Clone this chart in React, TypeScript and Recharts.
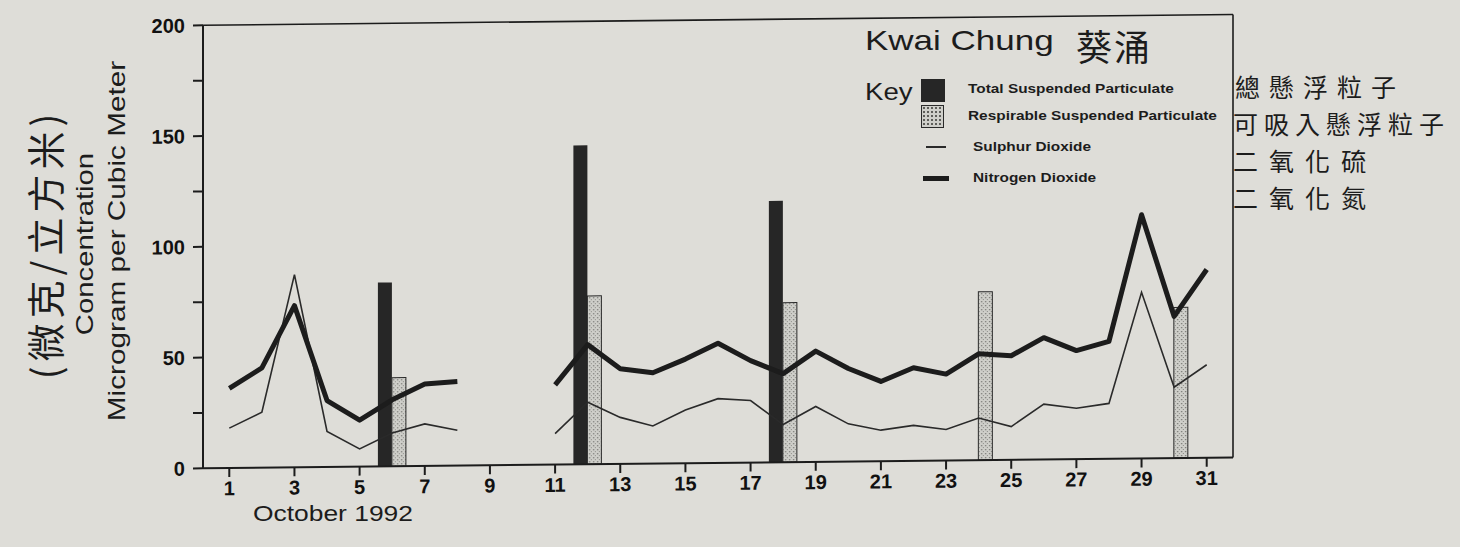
import React from 'react';
import { Bar, ComposedChart, Line, ReferenceLine, XAxis, YAxis } from 'recharts';

// October 1992, Kwai Chung (µg/m³)
const days = [1, 2, 3, 4, 5, 6, 7, 8, 9, 10, 11, 12, 13, 14, 15, 16, 17, 18, 19, 20, 21, 22, 23, 24, 25, 26, 27, 28, 29, 30, 31];
const tsp = [null, null, null, null, null, 83, null, null, null, null, null, 144, null, null, null, null, null, 118, null, null, null, null, null, null, null, null, null, null, null, null, null];
const rsp = [null, null, null, null, null, 40, null, null, null, null, null, 76, null, null, null, null, null, 72, null, null, null, null, null, 76, null, null, null, null, null, 68, null];
const so2 = [18, 25, 87, 16, 8, 15, 19, 16, null, null, 14, 28, 21, 17, 24, 29, 28, 17, 25, 17, 14, 16, 14, 19, 15, 25, 23, 25, 75, 32, 42];
const no2 = [36, 45, 73, 30, 21, 30, 37, 38, null, null, 36, 54, 43, 41, 47, 54, 46, 40, 50, 42, 36, 42, 39, 48, 47, 55, 49, 53, 110, 64, 85];
const yTicks = [0, 25, 50, 75, 100, 125, 150, 175, 200];

const rows = days.map((day, i) => ({ day, tsp: tsp[i], rsp: rsp[i], so2: so2[i], no2: no2[i] }));

const INK = '#1c1c1c';
const SANS = '"Liberation Sans", Arial, sans-serif';
const CJK = '"Noto Sans CJK TC", "Noto Sans CJK SC", sans-serif';

type TxtProps = { x: number; y: number; size: number; sx?: number; weight?: number; font?: string; spacing?: number; children: React.ReactNode };

// horizontal text, y is the vertical centre
const Txt = ({ x, y, size, sx = 1, weight = 400, font = SANS, spacing = 0, children }: TxtProps) => (
  <div
    style={{
      position: 'absolute',
      left: x,
      top: y,
      fontSize: size,
      fontWeight: weight,
      fontFamily: font,
      letterSpacing: spacing,
      lineHeight: 1,
      whiteSpace: 'nowrap',
      transform: `translateY(-50%) scaleX(${sx})`,
      transformOrigin: 'left center',
    }}
  >
    {children}
  </div>
);

// rotated text, (x, y) is its centre
const VTxt = ({ x, y, size, sx = 1, weight = 400, font = SANS, spacing = 0, children }: TxtProps) => (
  <div
    style={{
      position: 'absolute',
      left: x,
      top: y,
      fontSize: size,
      fontWeight: weight,
      fontFamily: font,
      letterSpacing: spacing,
      lineHeight: 1,
      whiteSpace: 'nowrap',
      transform: `translate(-50%, -50%) rotate(-90deg) scaleX(${sx})`,
    }}
  >
    {children}
  </div>
);

const Box = ({ x, y, w, h, bg, border }: { x: number; y: number; w: number; h: number; bg: string; border?: string }) => (
  <div style={{ position: 'absolute', left: x, top: y, width: w, height: h, background: bg, border, boxSizing: 'border-box' }} />
);

const stipple =
  'radial-gradient(circle, #5e5e5a 0.8px, transparent 1px) 0 0 / 4px 4px, #cfcfca';

export default function App() {
  return (
    <div
      style={{
        position: 'absolute',
        left: 0,
        top: 0,
        width: 1460,
        height: 547,
        overflow: 'hidden',
        background: '#deddd8',
        color: INK,
        fontFamily: SANS,
      }}
    >
      <div style={{ position: 'absolute', left: 0, top: 0, transform: 'skewY(-0.6deg)', transformOrigin: '229px 468px' }}>
        <ComposedChart
          width={1460}
          height={547}
          data={rows}
          margin={{ top: 25, right: 226, bottom: 49, left: 103 }}
          barGap={0}
        >
          <defs>
            <pattern id="stipple" width="4" height="4" patternUnits="userSpaceOnUse">
              <rect width="4" height="4" fill="#cfcfca" />
              <rect x="1" y="1" width="1.2" height="1.2" fill="#666662" />
              <rect x="3" y="3" width="1" height="1" fill="#8c8c88" />
            </pattern>
          </defs>
          <XAxis
            dataKey="day"
            interval={1}
            padding={{ left: 10, right: 10 }}
            height={30}
            tickSize={9}
            tickMargin={4}
            axisLine={{ stroke: INK, strokeWidth: 2 }}
            tickLine={{ stroke: INK, strokeWidth: 2 }}
            tick={{ fill: '#111', fontSize: 20, fontFamily: SANS, fontWeight: 600 }}
          />
          <YAxis
            domain={[0, 200]}
            ticks={yTicks}
            tickFormatter={(v: number) => (v % 50 === 0 ? String(v) : '')}
            width={100}
            tickSize={10}
            tickMargin={8}
            axisLine={{ stroke: INK, strokeWidth: 2 }}
            tickLine={{ stroke: INK, strokeWidth: 2 }}
            tick={{ fill: '#111', fontSize: 20, fontFamily: SANS, fontWeight: 600 }}
          />
          <YAxis
            yAxisId="frame"
            orientation="right"
            domain={[0, 200]}
            width={1}
            tick={false}
            tickLine={false}
            axisLine={{ stroke: INK, strokeWidth: 1.6 }}
          />
          <ReferenceLine y={200} stroke={INK} strokeWidth={1.6} />
          <Bar dataKey="tsp" barSize={14} fill="#262626" isAnimationActive={false} />
          <Bar dataKey="rsp" barSize={14} fill="url(#stipple)" stroke="#2a2a2a" strokeWidth={1} isAnimationActive={false} />
          <Line type="linear" dataKey="so2" stroke="#2a2a2a" strokeWidth={1.6} dot={false} isAnimationActive={false} />
          <Line type="linear" dataKey="no2" stroke={INK} strokeWidth={5} strokeLinejoin="round" dot={false} isAnimationActive={false} />
        </ComposedChart>
      </div>

      {/* axis titles */}
      <VTxt x={44} y={244} size={38} font={CJK} spacing={5}>(微克/立方米)</VTxt>
      <VTxt x={85} y={244} size={24} sx={1.22}>Concentration</VTxt>
      <VTxt x={117} y={241} size={24} sx={1.24}>Microgram per Cubic Meter</VTxt>
      <Txt x={253} y={514} size={22} sx={1.2}>October 1992</Txt>

      {/* title */}
      <Txt x={865} y={41} size={28} sx={1.25}>Kwai Chung</Txt>
      <Txt x={1076} y={45} size={36} font={CJK} spacing={2}>葵涌</Txt>

      {/* key */}
      <Txt x={865} y={92} size={23} sx={1.2}>Key</Txt>
      <Box x={921} y={79} w={24} h={23} bg="#262626" />
      <Box x={921} y={105} w={23} h={23} bg={stipple} border="1px solid #2a2a2a" />
      <Box x={926} y={146} w={20} h={1.6} bg="#2a2a2a" />
      <Box x={923} y={176} w={26} h={5} bg={INK} />
      <Txt x={968} y={89} size={13.5} weight={700} sx={1.14}>Total Suspended Particulate</Txt>
      <Txt x={968} y={116} size={13.5} weight={700} sx={1.14}>Respirable Suspended Particulate</Txt>
      <Txt x={973} y={147} size={13.5} weight={700} sx={1.14}>Sulphur Dioxide</Txt>
      <Txt x={973} y={178} size={13.5} weight={700} sx={1.14}>Nitrogen Dioxide</Txt>

      {/* handwritten Chinese key */}
      <Txt x={1235} y={86} size={25} font={CJK} spacing={9}>總懸浮粒子</Txt>
      <Txt x={1233} y={123} size={25} font={CJK} spacing={6}>可吸入懸浮粒子</Txt>
      <Txt x={1233} y={160} size={25} font={CJK} spacing={11}>二氧化硫</Txt>
      <Txt x={1233} y={197} size={25} font={CJK} spacing={11}>二氧化氮</Txt>
    </div>
  );
}
